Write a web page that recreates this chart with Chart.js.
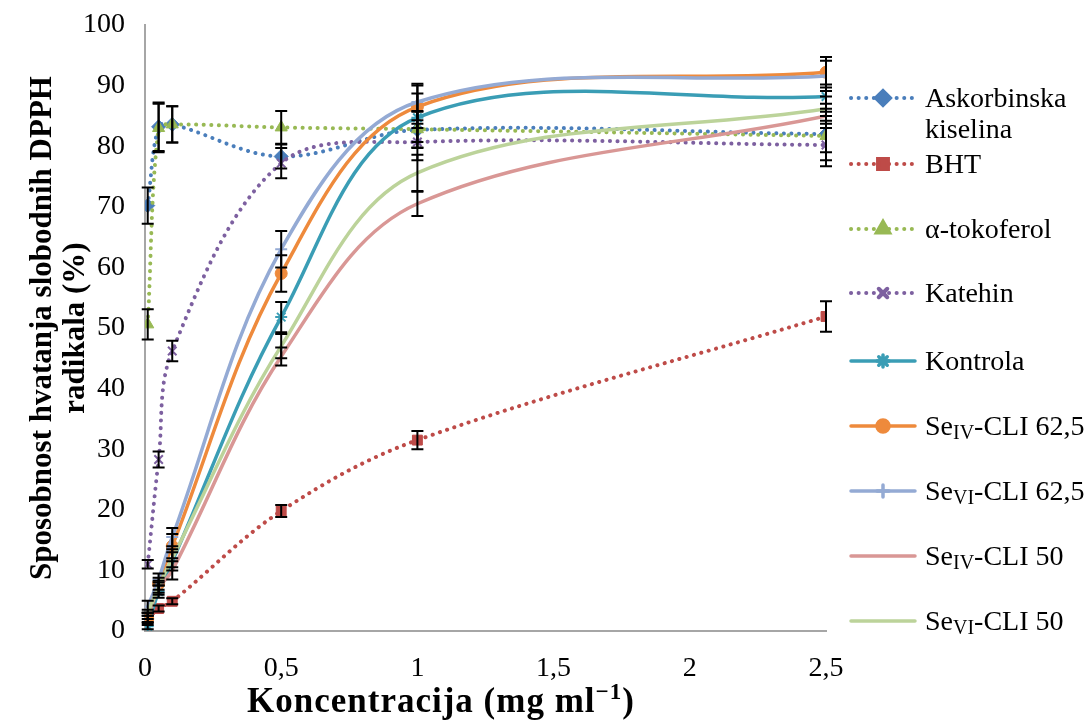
<!DOCTYPE html>
<html>
<head>
<meta charset="utf-8">
<script src="https://cdn.jsdelivr.net/npm/chart.js@4.4.1/dist/chart.umd.min.js"></script>
<style>
    body { margin: 0; background: #fff; }
    #wrap { position: relative; width: 1086px; height: 721px; overflow: hidden; }
    #legend { position: absolute; left: 848px; top: 0; font-family: "Liberation Serif", "Times New Roman", serif; font-size: 28px; color: #000; }
    .item { position: absolute; left: 0; display: flex; align-items: flex-start; white-space: nowrap; }
    .item canvas { margin-top: 1px; }
    .item > span { margin-left: 7px; line-height: 31px; }
    .sub { font-size: 20px; position: relative; top: 4px; }
    #xTitle { position: absolute; left: 247px; top: 682px; font-family: "Liberation Serif", "Times New Roman", serif; font-size: 35px; font-weight: bold; letter-spacing: 1px; white-space: nowrap; line-height: 38px; }
    #xTitle sup { font-size: 23px; vertical-align: 0; position: relative; top: -13px; }
</style>
</head>
<body>
<div id="wrap">
    <canvas id="myChart" width="1086" height="721"></canvas>
    <div id="legend"></div>
    <div id="xTitle">Koncentracija (mg ml<sup>−1</sup>)</div>
</div>
<script>
const concentrations = [0.01, 0.05, 0.1, 0.5, 1, 2.5];
const xTicks = [0, 0.5, 1, 1.5, 2, 2.5];

const askorbinska = [70.2, 83.2, 83.6, 78.3, 82.7, 82.0];
const askorbinskaErr = [3, 4, 3, 2, 3, 3];
const bht = [2.0, 3.7, 4.9, 19.8, 31.5, 51.9];
const bhtErr = [0.5, 0.5, 0.5, 1, 1.5, 2.5];
const tokoferol = [50.6, 83.0, 83.6, 83.1, 82.8, 81.7];
const tokoferolErr = [2.5, 4, 3, 2.7, 3, 4];
const katehin = [11.0, 28.3, 46.2, 77.2, 80.7, 80.2];
const katehinErr = [0.7, 1.3, 1.7, 2.5, 3, 3.5];
const kontrola = [0.8, 6.5, 11.5, 51.8, 84.7, 88.2];
const kontrolaErr = [0.5, 1, 1.5, 2.5, 4, 2];
const seIV625 = [2.0, 7.8, 14.0, 59.0, 86.5, 92.2];
const seIV625Err = [1, 1, 2, 3, 3.5, 2.5];
const seVI625 = [4.0, 8.5, 15.5, 63.0, 87.3, 91.6];
const seVI625Err = [1, 1, 1.5, 3, 3, 2.5];
const seIV50 = [2.5, 7.0, 10.0, 45.3, 70.5, 85.0];
const seIV50Err = [0.5, 1, 1.5, 1.5, 2, 2];
const seVI50 = [3.0, 7.3, 12.0, 47.0, 75.6, 86.2];
const seVI50Err = [0.5, 1, 1.5, 2, 3, 2];

const series = [
    { label: "Askorbinska kiselina", html: "Askorbinska<br>kiselina", values: askorbinska, err: askorbinskaErr, color: "#4A7EBB", dotted: true, style: "rectRot", radius: 7, top: 82 },
    { label: "BHT", html: "BHT", values: bht, err: bhtErr, color: "#BE4B48", dotted: true, style: "rect", radius: 7, top: 148 },
    { label: "α-tokoferol", html: "α-tokoferol", values: tokoferol, err: tokoferolErr, color: "#98B954", dotted: true, style: "triangle", radius: 7, top: 213 },
    { label: "Katehin", html: "Katehin", values: katehin, err: katehinErr, color: "#7D60A0", dotted: true, style: "crossRot", radius: 6, top: 277 },
    { label: "Kontrola", html: "Kontrola", values: kontrola, err: kontrolaErr, color: "#3A9DB5", dotted: false, style: "star", radius: 6, top: 345 },
    { label: "SeIV-CLI 62,5", html: "Se<span class='sub'>IV</span>-CLI 62,5", values: seIV625, err: seIV625Err, color: "#EE8A3C", dotted: false, style: "circle", radius: 6, top: 410 },
    { label: "SeVI-CLI 62,5", html: "Se<span class='sub'>VI</span>-CLI 62,5", values: seVI625, err: seVI625Err, color: "#94AAD4", dotted: false, style: "cross", radius: 6, top: 475 },
    { label: "SeIV-CLI 50", html: "Se<span class='sub'>IV</span>-CLI 50", values: seIV50, err: seIV50Err, color: "#D99795", dotted: false, style: "line", radius: 0, top: 540 },
    { label: "SeVI-CLI 50", html: "Se<span class='sub'>VI</span>-CLI 50", values: seVI50, err: seVI50Err, color: "#BCD39A", dotted: false, style: "line", radius: 0, top: 605 }
];

const datasets = series.map((s, i) => ({
    label: s.label,
    data: s.values.map((v, j) => ({ x: concentrations[j], y: v })),
    errors: s.err,
    showLine: true,
    borderColor: s.color,
    backgroundColor: s.color,
    borderWidth: s.dotted ? 4 : 3.5,
    borderDash: s.dotted ? [0.1, 7.5] : [],
    borderCapStyle: "round",
    tension: 0.35,
    pointStyle: s.style,
    pointRadius: s.radius,
    pointBorderWidth: (s.style === "star" || s.style === "cross" || s.style === "crossRot") ? 2 : 1,
    order: series.length - i
}));

const errorBars = {
    id: "errorBars",
    afterDatasetsDraw(chart) {
        const ctx = chart.ctx;
        const xScale = chart.scales.x;
        const yScale = chart.scales.y;
        ctx.save();
        ctx.strokeStyle = "#000";
        ctx.lineWidth = 2;
        chart.data.datasets.forEach(ds => {
            ds.data.forEach((p, i) => {
                const e = ds.errors[i];
                const px = xScale.getPixelForValue(p.x);
                const top = yScale.getPixelForValue(p.y + e);
                const bottom = yScale.getPixelForValue(p.y - e);
                ctx.beginPath();
                ctx.moveTo(px, top);
                ctx.lineTo(px, bottom);
                ctx.moveTo(px - 6, top);
                ctx.lineTo(px + 6, top);
                ctx.moveTo(px - 6, bottom);
                ctx.lineTo(px + 6, bottom);
                ctx.stroke();
            });
        });
        ctx.restore();
    }
};

const serif = "'Liberation Serif', 'Times New Roman', serif";

new Chart("myChart", {
    type: "scatter",
    data: { datasets: datasets },
    options: {
        responsive: false,
        animation: false,
        layout: { padding: { top: 25, right: 260, left: 0, bottom: 0 } },
        scales: {
            x: {
                type: "linear",
                min: 0,
                max: 2.5,
                afterBuildTicks: scale => { scale.ticks = xTicks.map(v => ({ value: v })); },
                afterFit: scale => { scale.height = 90; scale.paddingLeft = 0; scale.paddingRight = 0; },
                grid: { display: false, drawTicks: false },
                border: { color: "#A6A6A6", width: 2 },
                ticks: {
                    padding: 21,
                    color: "#000",
                    font: { family: serif, size: 28 },
                    callback: v => String(v).replace(".", ",")
                },
                title: { display: false }
            },
            y: {
                min: 0,
                max: 100,
                afterFit: scale => { scale.width = 145; scale.paddingTop = 0; scale.paddingBottom = 0; },
                grid: { display: false, drawTicks: false },
                border: { color: "#A6A6A6", width: 2 },
                ticks: {
                    stepSize: 10,
                    padding: 20,
                    color: "#000",
                    font: { family: serif, size: 28 }
                },
                title: {
                    display: true,
                    text: ["Sposobnost hvatanja slobodnih DPPH", "radikala (%)"],
                    color: "#000",
                    font: { family: serif, size: 31, weight: "bold", lineHeight: 1.07 },
                    padding: { top: 26, bottom: 0 }
                }
            }
        },
        plugins: {
            legend: { display: false },
            tooltip: { enabled: false }
        }
    },
    plugins: [errorBars]
});

const legendBox = document.getElementById("legend");
series.forEach(s => {
    const item = document.createElement("div");
    item.className = "item";
    item.style.top = s.top + "px";
    const icon = document.createElement("canvas");
    icon.width = 70;
    icon.height = 30;
    const ictx = icon.getContext("2d");
    ictx.strokeStyle = s.color;
    ictx.fillStyle = s.color;
    ictx.lineWidth = s.dotted ? 4 : 3.5;
    ictx.lineCap = "round";
    if (s.dotted) ictx.setLineDash([0.1, 7.5]);
    ictx.beginPath();
    ictx.moveTo(3, 15);
    ictx.lineTo(67, 15);
    ictx.stroke();
    ictx.setLineDash([]);
    if (s.radius > 0) {
        Chart.helpers.drawPoint(ictx, {
            pointStyle: s.style,
            radius: s.radius,
            rotation: 0,
            borderWidth: (s.style === "star" || s.style === "cross" || s.style === "crossRot") ? 2 : 1
        }, 35, 15);
    }
    const text = document.createElement("span");
    text.innerHTML = s.html;
    item.appendChild(icon);
    item.appendChild(text);
    legendBox.appendChild(item);
});
</script>
</body>
</html>
